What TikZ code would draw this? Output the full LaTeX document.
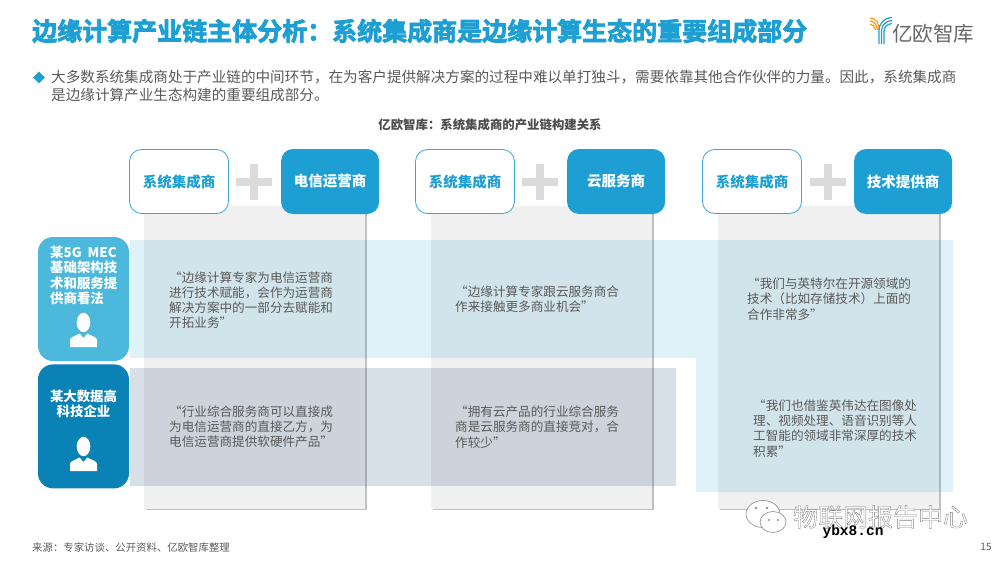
\documentclass[tikz,border=0pt]{standalone}
\usepackage{fontspec}
\usepackage{xcolor}
\setmainfont{Noto Sans CJK SC}
\newfontfamily\heavyfont[FakeBold=3]{Noto Sans CJK SC Bold}
\newfontfamily\markfont{Liberation Mono}
\usepackage{tikz}
\usetikzlibrary{shapes.geometric, shadows, positioning}
\definecolor{chainblue}{HTML}{1D9FD3}
\definecolor{chainline}{HTML}{3BA7D8}
\definecolor{viewlight}{HTML}{4BB8DC}
\definecolor{viewdark}{HTML}{0B82B5}
\definecolor{bodygrey}{HTML}{595959}
\definecolor{panelgrey}{HTML}{F0F0F0}
\definecolor{bandslate}{HTML}{3D6285}
\newcommand{\outlinetext}[1]{\special{pdf:code 2 Tr 0.35 w 0.5 0.5 0.5 RG 1 1 1 rg}#1\special{pdf:code 0 Tr}}
\tikzset{integrator-box/.style={draw=chainline, line width=0.8pt, fill=white, rounded corners=12pt, minimum width=99pt, minimum height=64pt, inner sep=0, text=chainblue, font=\bfseries\fontsize{14.5}{17}\selectfont}}
\tikzset{partner-box/.style={fill=chainblue, rounded corners=12pt, minimum width=98pt, minimum height=65pt, inner sep=0, text=white, font=\bfseries\fontsize{14.5}{17}\selectfont}}
\tikzset{view-box/.style={rounded corners=15pt, minimum width=91pt, minimum height=124pt, inner sep=0}}
\tikzset{view-label/.style={text=white, inner sep=0, align=left, font=\bfseries\fontsize{13.4}{15.2}\selectfont}}
\tikzset{quote-panel/.style={fill=panelgrey, minimum width=221pt, minimum height=303pt, inner sep=0, drop shadow={shadow xshift=1.8pt, shadow yshift=-1.8pt, opacity=0.5}}}
\tikzset{quote-text/.style={text=bodygrey, inner sep=0, align=left, font=\fontsize{12.6}{15.2}\selectfont}}
\tikzset{plus-bar/.style={fill=black!14}}
\tikzset{person-part/.style={fill=white}}
\tikzset{logo-orange/.style={draw=orange!85!yellow, line width=1.1pt}}
\tikzset{logo-blue/.style={draw=chainblue, line width=1.2pt}}
\tikzset{chat-bubble/.style={draw=black!45, fill=white, line width=0.6pt}}
\tikzset{plus-sign/.pic={
    \fill[plus-bar] (-18,-3.7) rectangle (18,3.7);
    \fill[plus-bar] (-3.7,-18) rectangle (3.7,18);
}}
\tikzset{person-icon/.pic={
    \fill[person-part] (0,-8.5) ellipse (6.8 and 9.7);
    \fill[person-part] (-13.5,16) -- (-13.5,9) .. controls (-13.5,6) and (-8,5) .. (-4,2.5) -- (0,7) -- (4,2.5) .. controls (8,5) and (13.5,6) .. (13.5,9) -- (13.5,16) -- cycle;
}}
\begin{document}
\begin{tikzpicture}[x=1pt, y=-1pt]
            \useasboundingbox (0,0) rectangle (1000,562);

            % grey panels
            \node[quote-panel] (panel1) at (254.5,357) {};
            \node[quote-panel, right=66pt of panel1] (panel2) {};
            \node[quote-panel, right=65pt of panel2] (panel3) {};

            % bands of the two views
            \fill[chainblue, opacity=0.14] (130,240) -- (953,240) -- (953,492) -- (696,492) -- (696,358) -- (130,358) -- cycle;
            \fill[bandslate, opacity=0.2] (130,367.5) rectangle (676,486);

            % header row
            \node[integrator-box] (sys1) at (179,181.5) {系统集成商};
            \node[partner-box, right=52pt of sys1] (tel1) {电信运营商};
            \node[integrator-box] (sys2) at (465,181.5) {系统集成商};
            \node[partner-box, right=52pt of sys2] (cloud1) {云服务商};
            \node[integrator-box] (sys3) at (752,181.5) {系统集成商};
            \node[partner-box, right=52pt of sys3] (tech1) {技术提供商};

            \pic at (254,182) {plus-sign};
            \pic at (540,182) {plus-sign};
            \pic at (828,182) {plus-sign};

            % left column
            \node[view-box, fill=viewlight] (view1) at (83.5,299) {};
            \node[view-box, fill=viewdark, below=3pt of view1] (view2) {};
            \node[view-label, anchor=north west] (view1text) at (50,246) {某5G\ \ MEC\\基础架构技\\术和服务提\\供商看法};
            \node[view-label, align=center] (view2text) at (83.5,403.5) {某大数据高\\科技企业};
            \pic at (83.5,331) {person-icon};
            \pic at (83.5,455) {person-icon};

            % quotes
            \node[quote-text, anchor=west] (q11) at (169,300) {“边缘计算专家为电信运营商\\进行技术赋能，会作为运营商\\解决方案中的一部分去赋能和\\开拓业务”};
            \node[quote-text, anchor=west] (q12) at (169,427) {“行业综合服务商可以直接成\\为电信运营商的直接乙方，为\\电信运营商提供软硬件产品”};
            \node[quote-text, anchor=west] (q21) at (455,299.5) {“边缘计算专家跟云服务商合\\作来接触更多商业机会”};
            \node[quote-text, anchor=west] (q22) at (455,427) {“拥有云产品的行业综合服务\\商是云服务商的直接竞对，合\\作较少”};
            \node[quote-text, anchor=west] (q31) at (747,299) {“我们与英特尔在开源领域的\\技术（比如存储技术）上面的\\合作非常多”};
            \node[quote-text, anchor=west] (q32) at (753,428.5) {“我们也借鉴英伟达在图像处\\理、视频处理、语音识别等人\\工智能的领域非常深厚的技术\\积累”};

            % heading
            \node[anchor=west, inner sep=0, text=chainblue, font=\heavyfont\fontsize{25}{28}\selectfont] (title) at (32,31) {边缘计算产业链主体分析：系统集成商是边缘计算生态的重要组成部分};
            \node[diamond, fill=chainblue, minimum size=12pt, inner sep=0] (bullet) at (39,77.5) {};
            \node[anchor=north west, inner sep=0, text=bodygrey, align=left, font=\fontsize{14.6}{17.5}\selectfont] (intro) at (51,70) {大多数系统集成商处于产业链的中间环节，在为客户提供解决方案的过程中难以单打独斗，需要依靠其他合作伙伴的力量。因此，系统集成商\\是边缘计算产业生态构建的重要组成部分。};
            \node[inner sep=0, text=black!70, font=\bfseries\fontsize{12.4}{14}\selectfont] (chart) at (490,124.5) {亿欧智库：系统集成商的产业链构建关系};

            % logo
            \draw[logo-orange] (870,18) .. controls (876,18) and (879,23) .. (879.5,30);
            \draw[logo-orange] (870,21) .. controls (874,21) and (877,25) .. (877.5,30);
            \draw[logo-orange] (870,24) .. controls (873,24) and (875,27) .. (875.5,30);
            \draw[logo-blue] (879,44) -- (879,31) .. controls (879,23) and (884,18) .. (892,17.5);
            \draw[logo-blue] (881.5,44) -- (881.5,31) .. controls (881.5,25) and (886,21) .. (892,20.5);
            \draw[logo-blue] (884,44) -- (884,32) .. controls (884,27) and (887,24) .. (892,23.5);
            \node[anchor=west, inner sep=0, text=black!60, font=\fontsize{20.5}{22}\selectfont] (logotext) at (892,33.5) {亿欧智库};

            % footer
            \node[anchor=west, inner sep=0, text=bodygrey, font=\fontsize{10.4}{12}\selectfont] (source) at (32,547.5) {来源：专家访谈、公开资料、亿欧智库整理};
            \node[inner sep=0, text=bodygrey, font=\fontsize{10}{12}\selectfont] (pageno) at (986,547) {15};

            % watermark
            \draw[chat-bubble] (763,514) ellipse (17 and 13.5);
            \draw[chat-bubble] (773,522) ellipse (13 and 10.5);
            \fill[black!45] (756,508) circle (1.3) (767,508) circle (1.3) (769,520) circle (1.1) (778,520) circle (1.1);
            \node[inner sep=0, text=white, font=\fontsize{25}{27}\selectfont] (mark) at (880.5,517) {\outlinetext{物联网报告中心}};
            \node[inner sep=0, text=black, font=\markfont\bfseries\fontsize{14.5}{16}\selectfont] (site) at (853,532) {ybx8.cn};
\end{tikzpicture}
\end{document}
